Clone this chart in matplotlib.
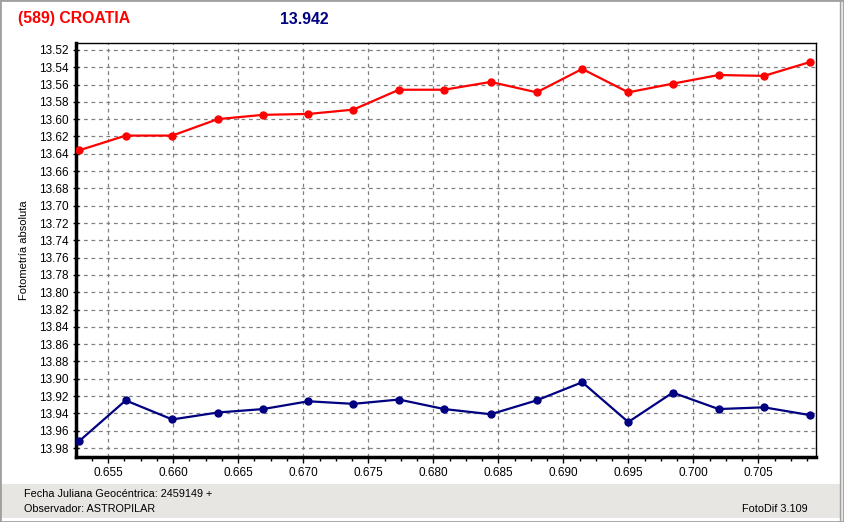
import matplotlib.pyplot as plt
from matplotlib.ticker import MultipleLocator, FormatStrFormatter
from matplotlib.patches import Rectangle

# fraction of julian day (2459149 +)
jd = [0.65277, 0.65634, 0.65992, 0.66342, 0.66692, 0.67039, 0.67385, 0.67736, 0.68084,
      0.68442, 0.68795, 0.69146, 0.69500, 0.69842, 0.70195, 0.70544, 0.70898]
mag_red = [13.636, 13.619, 13.619, 13.600, 13.595, 13.594, 13.589, 13.566, 13.566,
           13.557, 13.569, 13.542, 13.569, 13.559, 13.549, 13.550, 13.534]
mag_blue = [13.972, 13.925, 13.947, 13.939, 13.935, 13.926, 13.929, 13.924, 13.935,
            13.941, 13.925, 13.904, 13.950, 13.916, 13.935, 13.933, 13.942]

title_left = "(589) CROATIA"
title_mid = "13.942"

plt.rcParams['font.family'] = ['Liberation Sans', 'DejaVu Sans']

W, H = 844, 522
fig = plt.figure(figsize=(W / 100, H / 100), dpi=100)
fig.patch.set_facecolor('white')

# window frame and bottom status panel
fig.add_artist(Rectangle((0, 0), 1, 1, transform=fig.transFigure, fill=False,
                         edgecolor='#a0a0a0', lw=2))
fig.add_artist(Rectangle((0, 4 / H), 1, (522 - 484 - 4) / H, transform=fig.transFigure,
                         facecolor='#e8e6e3', edgecolor='none', zorder=-1))
fig.add_artist(Rectangle((840 / W, 0), 4 / W, 1, transform=fig.transFigure,
                         facecolor='#e8e6e3', edgecolor='#a0a0a0', lw=1, zorder=-1))

ax = fig.add_axes([76 / W, 1 - 457 / H, (816 - 76) / W, (457 - 43) / H])

ax.plot(jd, mag_red, color='#ff0000', lw=1.6, marker='o', ms=5, zorder=3)
ax.plot(jd, mag_blue, color='#000080', lw=1.6, marker='o', ms=5, zorder=3)

ax.set_xlim(0.65252, 0.70944)
ax.set_ylim(13.9904, 13.512)

ax.xaxis.set_major_locator(MultipleLocator(0.005))
ax.xaxis.set_minor_locator(MultipleLocator(0.00125))
ax.xaxis.set_major_formatter(FormatStrFormatter('%.3f'))
ax.yaxis.set_major_locator(MultipleLocator(0.02))
ax.yaxis.set_major_formatter(FormatStrFormatter('%.2f'))

ax.grid(True, which='major', color='#808080', linestyle=(0, (3, 3)), lw=0.9)
ax.tick_params(axis='both', which='major', labelsize=8.5, length=4, width=1, direction='out')
ax.tick_params(axis='x', which='minor', length=3, width=1, direction='out')
ax.tick_params(axis='y', which='major', length=4, direction='inout')

for side in ['top', 'right']:
    ax.spines[side].set_linewidth(1)
for side in ['left', 'bottom']:
    ax.spines[side].set_linewidth(2.5)

ax.set_ylabel('Fotometría absoluta', fontsize=8, labelpad=7)

fig.text(18 / W, 1 - 19 / H, title_left, color='#ff0000', fontsize=11.4,
         fontweight='bold', va='center', ha='left')
fig.text(304 / W, 1 - 19 / H, title_mid, color='#000080', fontsize=11.4,
         fontweight='bold', va='center', ha='center')

fig.text(24 / W, 1 - 494 / H, 'Fecha Juliana Geocéntrica: 2459149 +', fontsize=7.8,
         va='center', ha='left')
fig.text(24 / W, 1 - 509 / H, 'Observador: ASTROPILAR', fontsize=7.8,
         va='center', ha='left')
fig.text(808 / W, 1 - 509 / H, 'FotoDif 3.109', fontsize=7.8, va='center', ha='right')

fig.savefig('out.png', dpi=100)
